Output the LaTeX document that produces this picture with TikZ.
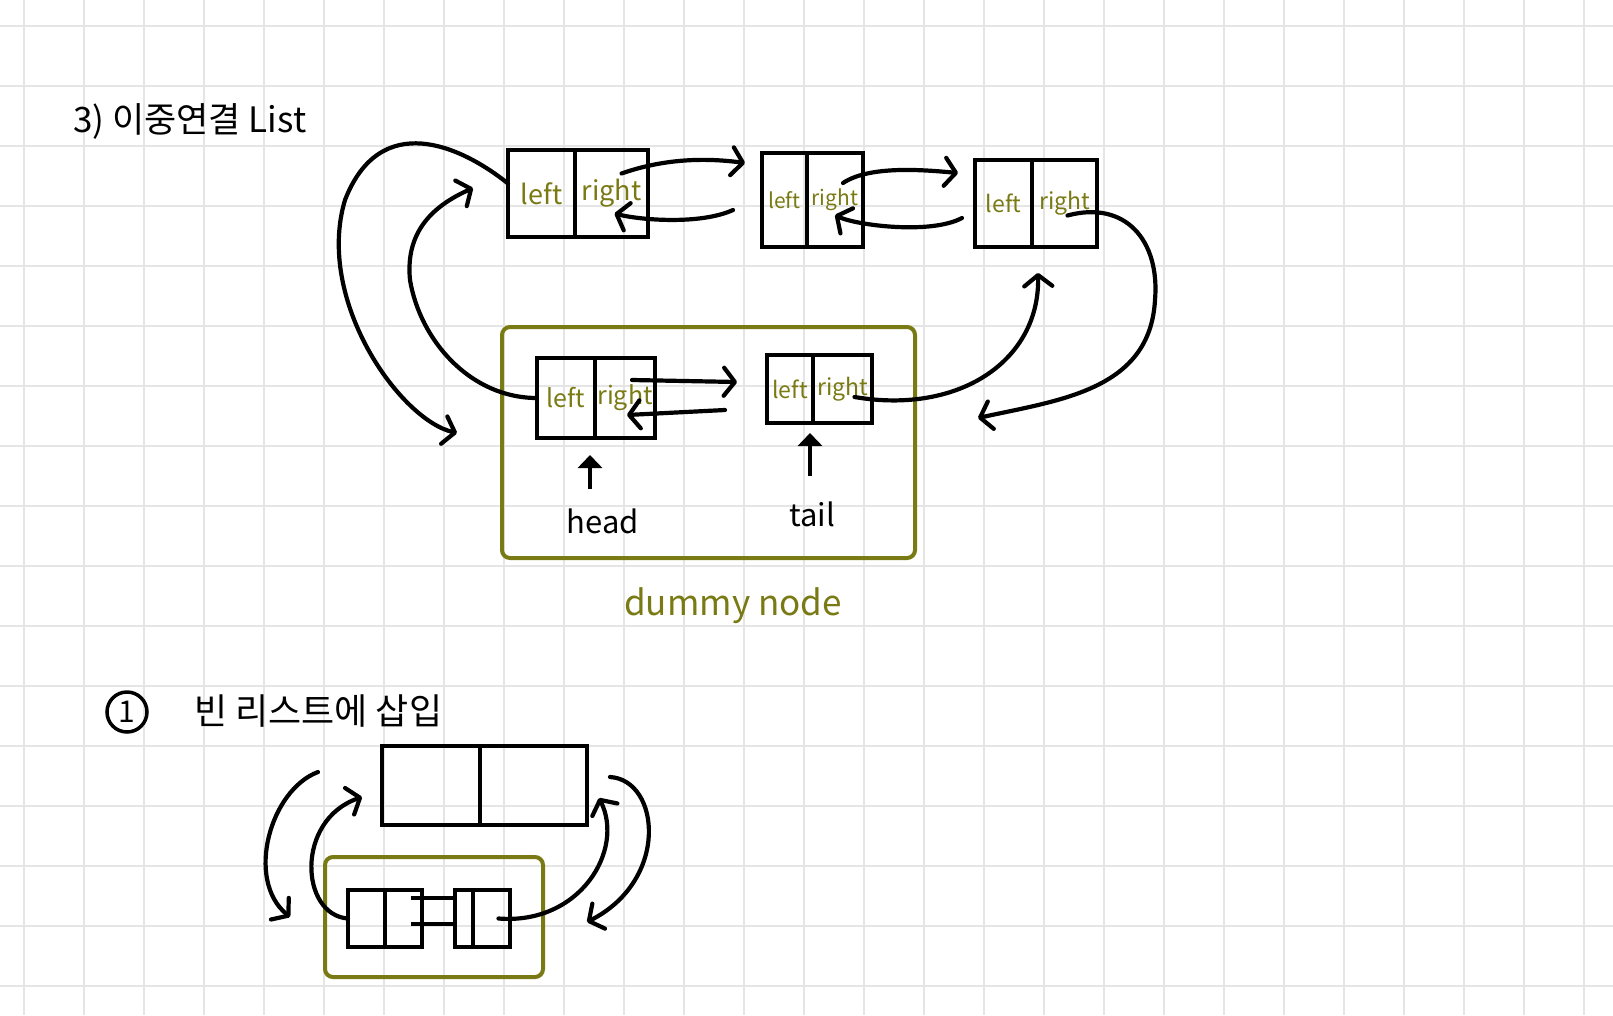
\documentclass[tikz,border=0pt]{standalone}
\usepackage{fontspec}
\setmainfont{Noto Sans CJK KR}
\usetikzlibrary{arrows.meta, positioning}

\definecolor{penolive}{RGB}{122,122,20}
\definecolor{gridgray}{RGB}{229,229,229}

\tikzset{
  gridline/.style={draw=gridgray, line width=2.5pt},
  cell/.style={draw, line width=4pt, inner sep=0pt, outer sep=0pt, text=penolive,
    font=\fontsize{27}{27}\selectfont},
  link/.style={line width=4.2pt, line cap=round,
    -{Straight Barb[length=11pt, width=28pt, line cap=round, line join=round]}},
  ptr/.style={line width=4pt, -{Triangle[length=13pt, width=24pt]}},
  olivebox/.style={draw=penolive, line width=4pt, rounded corners=8pt},
  word/.style={inner sep=0pt, font=\fontsize{31}{31}\selectfont},
}

\begin{document}
\begin{tikzpicture}[x=1pt, y=-1pt]
  \fill[white] (0,0) rectangle (1613,1015);
  \useasboundingbox (0,0) rectangle (1613,1015);
  \foreach \i in {0,...,26} \draw[gridline] ({24+60*\i},0) -- ({24+60*\i},1015);
  \foreach \j in {0,...,16} \draw[gridline] (0,{26+60*\j}) -- (1613,{26+60*\j});

  % free ends of the links
  \coordinate (ab) at (745,163);
  \coordinate (ba) at (733,210);
  \coordinate (bc) at (958,173);
  \coordinate (cb) at (962,218);
  \coordinate (cd) at (978,418);
  \coordinate (ec) at (1038,273);
  \coordinate (da) at (457,433);
  \coordinate (ad) at (473,188);
  \coordinate (de) at (737,382);
  \coordinate (ed) at (725,410);
  \coordinate (hp) at (590,455);
  \coordinate (tp) at (810,433);

  \node[word, anchor=west, font=\fontsize{35}{35}\selectfont] (title) at (73,121) {3) 이중연결 List};

  % dummy box
  \node[olivebox, minimum width=413pt, minimum height=231pt] (dummy) at (708.5,442.5) {};
  \node[word, text=penolive, font=\fontsize{35}{35}\selectfont] (dlabel) at (733,606) {dummy node};

  % top list
  \node[cell, minimum width=67pt, minimum height=87pt] (aL) at (541.5,193.5) {left};
  \node[cell, minimum width=73pt, minimum height=87pt, right=0pt of aL] (aR) {right};
  \node[cell, minimum width=45pt, minimum height=94pt, font=\fontsize{21}{21}\selectfont] (bL) at (784.5,200) {left};
  \node[cell, minimum width=56pt, minimum height=94pt, font=\fontsize{21}{21}\selectfont, right=0pt of bL] (bR) {right};
  \node[cell, minimum width=57pt, minimum height=87pt, font=\fontsize{23}{23}\selectfont] (cL) at (1003.5,203.5) {left};
  \node[cell, minimum width=65pt, minimum height=87pt, font=\fontsize{23}{23}\selectfont, right=0pt of cL] (cR) {right};

  % head and tail
  \node[cell, minimum width=58pt, minimum height=80pt, font=\fontsize{25}{25}\selectfont] (dL) at (566,398) {left};
  \node[cell, minimum width=60pt, minimum height=80pt, font=\fontsize{25}{25}\selectfont, right=0pt of dL] (dR) {right};
  \node[cell, minimum width=46pt, minimum height=68pt, font=\fontsize{23}{23}\selectfont] (eL) at (790,389) {left};
  \node[cell, minimum width=59pt, minimum height=68pt, font=\fontsize{23}{23}\selectfont, right=0pt of eL] (eR) {right};

  \node[word] (head) at (603,521) {head};
  \node[word] (tail) at (812,514) {tail};
  \draw[ptr, shorten <=19pt] (head.north -| hp) -- (hp);
  \draw[ptr, shorten <=25pt] (tail.north -| tp) -- (tp);

  % links
  \draw[link] ([shift={(10,-20)}]aR.center) .. controls (660,160) and (700,157) .. (ab);
  \draw[link] (ba) .. controls (700,225) and (640,220) .. ([shift={(3,20)}]aR.center);
  \draw[link] ([shift={(8,-17)}]bR.center) .. controls (870,165) and (925,170) .. (bc);
  \draw[link] (cb) .. controls (930,235) and (855,225) .. ([shift={(0,15)}]bR.center);
  \draw[link] ([shift={(7,-18)}]dR.center) -- (de);
  \draw[link] (ed) -- ([shift={(2,17)}]dR.center);
  \draw[link] ([shift={(3,12)}]cR.center) .. controls (1125,200) and (1160,240) .. (1155,300)
    .. controls (1150,390) and (1060,400) .. (cd);
  \draw[link] ([shift={(12,8)}]eR.center) .. controls (960,415) and (1040,360) .. (ec);
  \draw[link] ([shift={(0,-10)}]aL.west) .. controls (460,145) and (380,110) .. (345,200)
    .. controls (315,300) and (400,420) .. (da);
  \draw[link] (dL.west) .. controls (470,398) and (420,340) .. (410,280)
    .. controls (405,230) and (435,205) .. (ad);

  % empty list insert
  \node[draw, circle, line width=3.5pt, minimum size=40pt, inner sep=0pt,
    font=\fontsize{30}{30}\selectfont] (num) at (127,712) {1};
  \node[word, anchor=west, font=\fontsize{36}{36}\selectfont] (sub) at (194,711) {빈 리스트에 삽입};

  \coordinate (ol) at (318,772);
  \coordinate (ol2) at (290,917);
  \coordinate (il) at (362,797);
  \coordinate (ir) at (599,798);
  \coordinate (orr) at (610,777);
  \coordinate (or2) at (587,922);

  \node[cell, minimum width=98pt, minimum height=79pt] (bigL) at (431,785.5) {};
  \node[cell, minimum width=107pt, minimum height=79pt, right=0pt of bigL] (bigR) {};

  \node[olivebox, minimum width=218pt, minimum height=120pt] (dummy2) at (434,917) {};
  \node[cell, minimum width=37pt, minimum height=57pt] (m1L) at (366.5,918.5) {};
  \node[cell, minimum width=37pt, minimum height=57pt, right=0pt of m1L] (m1R) {};
  \node[cell, minimum width=18pt, minimum height=57pt] (m2L) at (464,918.5) {};
  \node[cell, minimum width=37pt, minimum height=57pt, right=0pt of m2L] (m2R) {};
  \draw[line width=4pt] ([shift={(7,-21)}]m1R.center) -- ([shift={(0,-21)}]m2L.west);
  \draw[line width=4pt] ([shift={(7,5)}]m1R.center) -- ([shift={(0,5)}]m2L.west);

  \draw[link] (ol) .. controls (270,790) and (245,880) .. (ol2);
  \draw[link] (m1L.west) .. controls (300,915) and (295,820) .. (il);
  \draw[link] ([shift={(7,0)}]m2R.center) .. controls (580,925) and (625,850) .. (ir);
  \draw[link] (orr) .. controls (660,780) and (670,880) .. (or2);
\end{tikzpicture}
\end{document}
